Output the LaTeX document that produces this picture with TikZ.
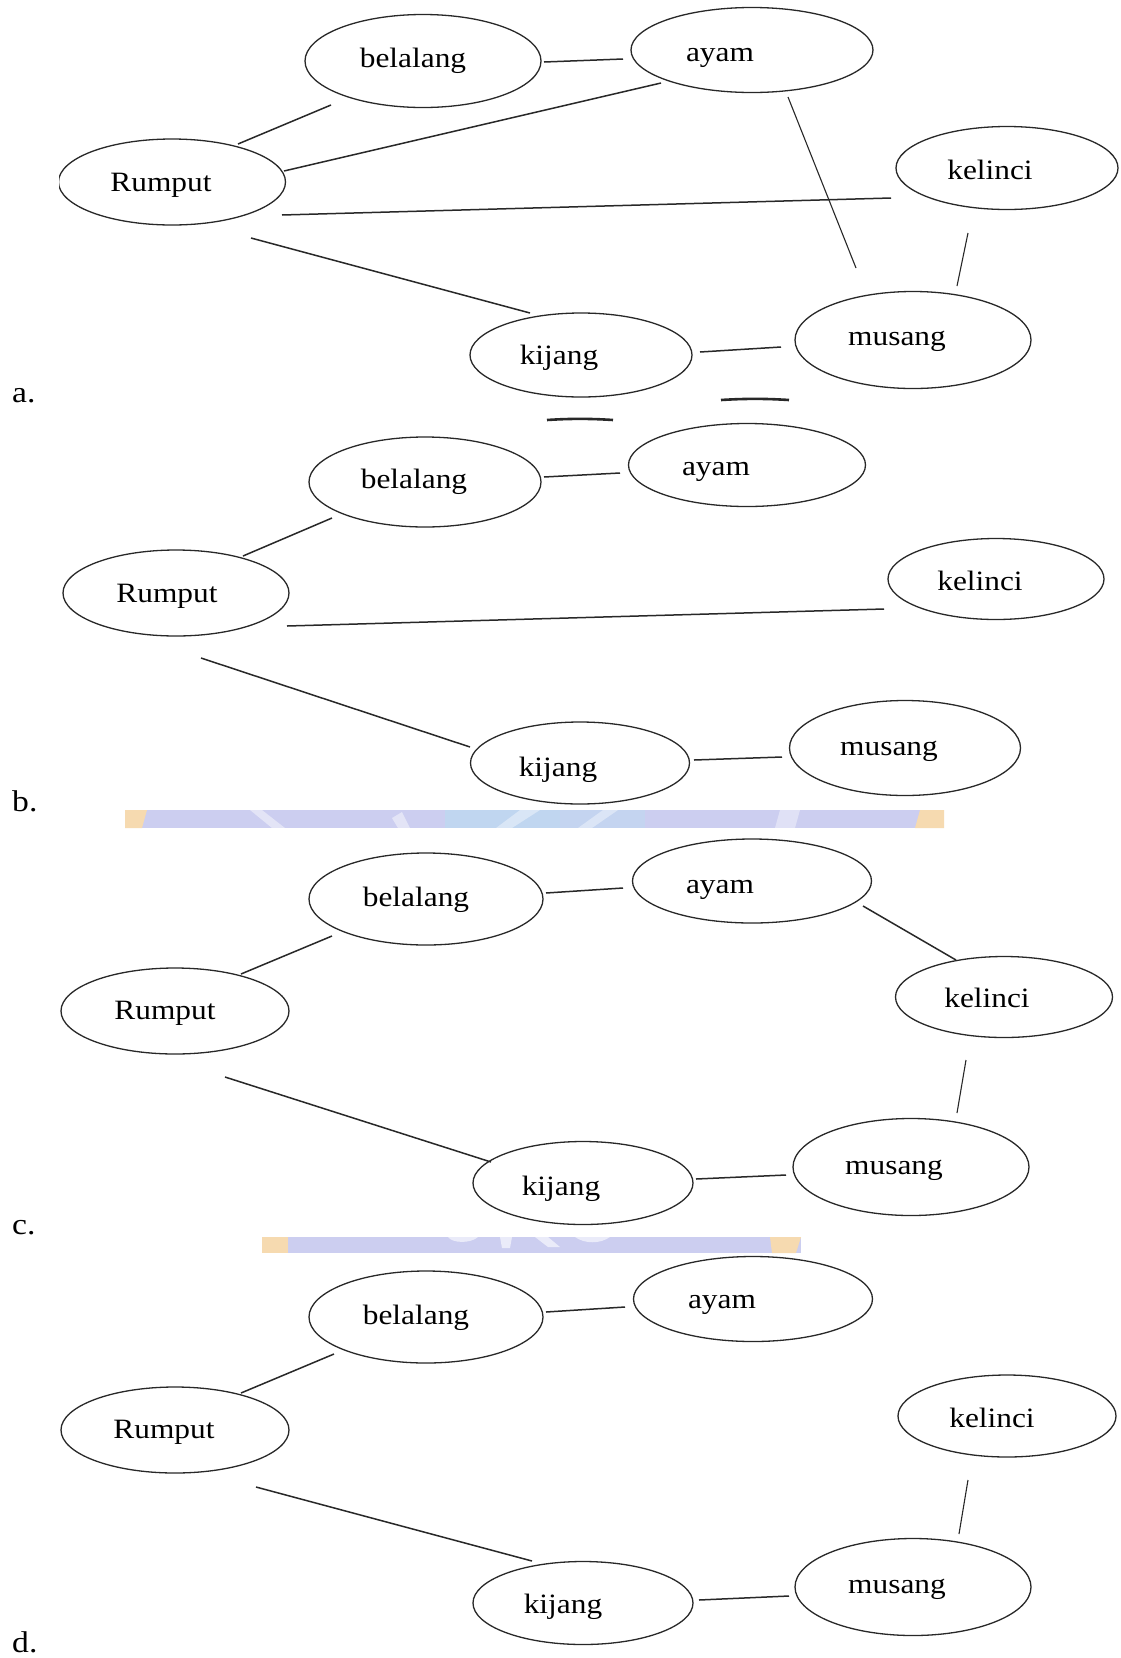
\documentclass[tikz,border=0pt]{standalone}
\usepackage{fontspec}
\setmainfont{Liberation Serif}[FakeStretch=1.12]
\usetikzlibrary{shapes.geometric,calc}
\definecolor{wmlav}{RGB}{204,206,240}
\definecolor{wmblue}{RGB}{192,214,240}
\definecolor{wmorange}{RGB}{246,218,176}
\definecolor{inkline}{RGB}{40,40,40}
\tikzset{
  oval/.style={ellipse, draw=inkline, line width=1.3pt, inner sep=0pt},
  word/.style={anchor=base, font=\fontsize{28}{30}\selectfont, inner sep=0pt},
  tag/.style={anchor=base west, font=\fontsize{30}{32}\selectfont, inner sep=0pt},
  link/.style={draw=inkline, line width=1.5pt},
  thinlink/.style={draw=inkline, line width=1.1pt},
}
% \eln{name}{x,y}{width}{height}
\newcommand\eln[4]{\node[oval, minimum width=#3pt, minimum height=#4pt] (#1) at (#2) {};}
\begin{document}
\begin{tikzpicture}[x=1pt,y=-1pt]
\useasboundingbox (0,0) rectangle (1120,1658);
\fill[white] (0,0) rectangle (1120,1658);

% ---------- a ----------
\begin{scope}
  \clip (59,0) rectangle (1120,420);
  \eln{aRum}{172,182}{227}{86}
\end{scope}
\eln{aBel}{423,61}{236}{93}
\eln{aAyam}{752,50}{242}{85}
\eln{aKel}{1007,168}{222}{83}
\eln{aKij}{581,355}{222}{84}
\eln{aMus}{913,340}{236}{97}
\node[word] (aRumT) at (161,191) {Rumput};
\node[word] (aBelT) at (413,67) {belalang};
\node[word] (aAyamT) at (720,61) {ayam};
\node[word] (aKelT) at (990,179) {kelinci};
\node[word] (aKijT) at (559,364) {kijang};
\node[word] (aMusT) at (897,345) {musang};
\node[tag] (aTag) at (12,402) {a.};
\draw[link] ($(aBel)+(121,1)$) -- ($(aAyam)+(-129,9)$);
\draw[link] ($(aRum)+(66,-38)$) -- ($(aBel)+(-92,44)$);
\draw[link] ($(aRum)+(112,-11)$) -- ($(aAyam)+(-91,33)$);
\draw[link] ($(aRum)+(110,33)$) -- ($(aKel)+(-116,30)$);
\draw[link] ($(aRum)+(79,56)$) -- ($(aKij)+(-51,-42)$);
\draw[thinlink] ($(aAyam)+(36,47)$) -- ($(aMus)+(-57,-72)$);
\draw[thinlink] ($(aKel)+(-39,65)$) -- ($(aMus)+(44,-54)$);
\draw[link] ($(aKij)+(119,-3)$) -- ($(aMus)+(-132,7)$);

% stray strokes between a and b
\draw[inkline, line width=2.6pt] (721,400) .. controls (745,398.5) and (765,398.5) .. (789,400);
\draw[inkline, line width=2.6pt] (547,420) .. controls (570,418.5) and (590,418.5) .. (613,420);

% ---------- b ----------
\eln{bRum}{176,593}{226}{86}
\eln{bBel}{425,482}{232}{90}
\eln{bAyam}{747,465}{237}{83}
\eln{bKel}{996,579}{216}{81}
\eln{bKij}{580,763}{219}{82}
\eln{bMus}{905,748}{231}{95}
\node[word] (bRumT) at (167,602) {Rumput};
\node[word] (bBelT) at (414,488) {belalang};
\node[word] (bAyamT) at (716,475) {ayam};
\node[word] (bKelT) at (980,590) {kelinci};
\node[word] (bKijT) at (558,776) {kijang};
\node[word] (bMusT) at (889,755) {musang};
\node[tag] (bTag) at (12,811) {b.};
\draw[link] ($(bBel)+(119,-5)$) -- ($(bAyam)+(-127,8)$);
\draw[link] ($(bRum)+(67,-37)$) -- ($(bBel)+(-93,36)$);
\draw[link] ($(bRum)+(111,33)$) -- ($(bKel)+(-112,30)$);
\draw[link] ($(bRum)+(25,65)$) -- ($(bKij)+(-110,-16)$);
\draw[link] ($(bKij)+(114,-3)$) -- ($(bMus)+(-123,9)$);

% watermark fragment between b and c
\fill[wmlav] (125,810) rectangle (944,828);
\fill[wmorange] (125,810) -- (147,810) -- (142,828) -- (125,828) -- cycle;
\fill[wmorange] (920,810) -- (944,810) -- (944,828) -- (915,828) -- cycle;
\fill[wmblue] (445,810) rectangle (560,828);
\fill[wmblue!70!wmlav] (560,810) rectangle (645,828);
\fill[white, opacity=0.45] (250,810) -- (262,810) -- (285,828) -- (272,828) -- cycle;
\fill[white, opacity=0.45] (392,818) -- (402,812) -- (410,828) -- (398,828) -- cycle;
\fill[white, opacity=0.40] (520,810) -- (540,810) -- (512,828) -- (496,828) -- cycle;
\fill[white, opacity=0.40] (603,810) -- (618,810) -- (592,828) -- (578,828) -- cycle;
\fill[white, opacity=0.40] (780,810) -- (800,810) -- (795,828) -- (775,828) -- cycle;

% ---------- c ----------
\eln{cRum}{175,1011}{228}{86}
\eln{cBel}{426,899}{234}{92}
\eln{cAyam}{752,881}{239}{84}
\eln{cKel}{1004,997}{217}{81}
\eln{cKij}{583,1183}{220}{83}
\eln{cMus}{911,1167}{236}{97}
\node[word] (cRumT) at (165,1019) {Rumput};
\node[word] (cBelT) at (416,906) {belalang};
\node[word] (cAyamT) at (720,893) {ayam};
\node[word] (cKelT) at (987,1007) {kelinci};
\node[word] (cKijT) at (561,1195) {kijang};
\node[word] (cMusT) at (894,1174) {musang};
\node[tag] (cTag) at (12,1234) {c.};
\draw[link] ($(cBel)+(120,-6)$) -- ($(cAyam)+(-129,7)$);
\draw[link] ($(cRum)+(66,-37)$) -- ($(cBel)+(-94,37)$);
\draw[link] ($(cAyam)+(111,25)$) -- ($(cKel)+(-48,-37)$);
\draw[thinlink] ($(cKel)+(-38,63)$) -- ($(cMus)+(46,-54)$);
\draw[link] ($(cRum)+(50,66)$) -- ($(cKij)+(-92,-21)$);
\draw[link] ($(cKij)+(113,-4)$) -- ($(cMus)+(-125,8)$);

% watermark fragment between c and d
\fill[wmlav] (262,1237) rectangle (801,1253);
\fill[wmorange] (262,1237) rectangle (288,1253);
\fill[wmorange] (770,1237) -- (801,1237) -- (796,1253) -- (772,1253) -- cycle;
\fill[white, opacity=0.6] (448,1237) .. controls (452,1243) and (470,1244) .. (478,1237) -- cycle;
\fill[white, opacity=0.6] (500,1237) -- (512,1237) -- (510,1248) -- (502,1248) -- cycle;
\fill[white, opacity=0.6] (535,1237) -- (548,1237) -- (560,1247) -- (548,1247) -- cycle;
\fill[white, opacity=0.6] (575,1237) .. controls (585,1244) and (600,1244) .. (610,1237) -- cycle;

% ---------- d ----------
\eln{dRum}{175,1430}{228}{86}
\eln{dBel}{426,1317}{234}{92}
\eln{dAyam}{753,1299}{239}{85}
\eln{dKel}{1007,1416}{218}{82}
\eln{dKij}{583,1603}{220}{83}
\eln{dMus}{913,1587}{236}{97}
\node[word] (dRumT) at (164,1438) {Rumput};
\node[word] (dBelT) at (416,1324) {belalang};
\node[word] (dAyamT) at (722,1308) {ayam};
\node[word] (dKelT) at (992,1427) {kelinci};
\node[word] (dKijT) at (563,1613) {kijang};
\node[word] (dMusT) at (897,1593) {musang};
\node[tag] (dTag) at (12,1652) {d.};
\draw[link] ($(dBel)+(120,-5)$) -- ($(dAyam)+(-128,8)$);
\draw[link] ($(dRum)+(66,-37)$) -- ($(dBel)+(-92,37)$);
\draw[link] ($(dRum)+(81,57)$) -- ($(dKij)+(-51,-42)$);
\draw[thinlink] ($(dKel)+(-39,64)$) -- ($(dMus)+(46,-53)$);
\draw[link] ($(dKij)+(116,-3)$) -- ($(dMus)+(-124,9)$);
\end{tikzpicture}
\end{document}
